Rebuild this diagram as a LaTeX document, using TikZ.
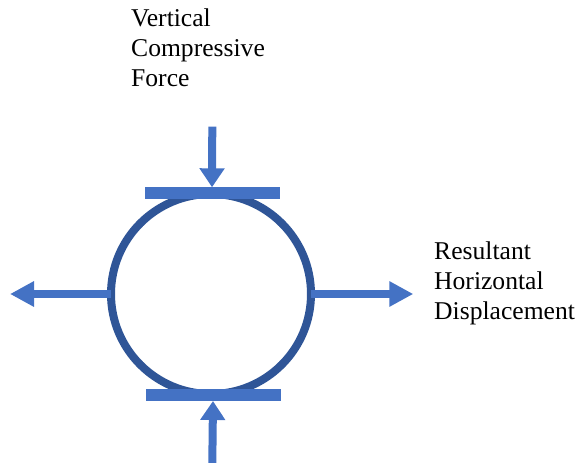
\documentclass[tikz,border=0pt]{standalone}
\usepackage{fontspec}
\setmainfont{Liberation Serif}
\newfontfamily\labelfont{Liberation Serif}
\usetikzlibrary{arrows.meta}
\definecolor{forceblue}{HTML}{4472C4}
\definecolor{ringblue}{HTML}{2F5597}
\begin{document}
\begin{tikzpicture}[x=1pt,y=-1pt,
  ringstyle/.style={circle,draw=ringblue,line width=8pt,minimum size=200pt,inner sep=0pt,outer sep=0pt},
  platestyle/.style={rectangle,fill=forceblue,minimum width=135pt,minimum height=12pt,inner sep=0pt,outer sep=0pt},
  forcearrow/.style={draw=forceblue,line width=8pt,-{Triangle[length=#1,width=24pt]}},
  label/.style={align=left,anchor=base west,inner sep=0pt,font=\labelfont\fontsize{25.6}{29.6}\selectfont}]
  \useasboundingbox (0,0) rectangle (582,463);
  % ring under load
  \node[ringstyle] (ring) at (211,294) {};
  % loading plates
  \node[platestyle] (topplate) at (212,193.3) {};
  \node[platestyle] (botplate) at (213,395) {};
  % free ends of the arrows
  \coordinate (topstart) at (212.3,126.7);
  \coordinate (botstart) at (212.3,463);
  \coordinate (leftend) at (10,294);
  \coordinate (rightend) at (413.3,294);
  % compressive force and resulting displacement
  \draw[forcearrow=19pt] (topstart) -- (topplate.north);
  \draw[forcearrow=19pt] (botstart) -- (botplate.south);
  \draw[forcearrow=24pt] (ring.west) -- (leftend);
  \draw[forcearrow=24pt] (ring.east) -- (rightend);
  % labels (anchored at the baseline of their last line)
  \node[label] (vlabel) at (131,86) {Vertical\\Compressive\\Force};
  \node[label] (hlabel) at (434,319) {Resultant\\Horizontal\\Displacement};
\end{tikzpicture}
\end{document}
